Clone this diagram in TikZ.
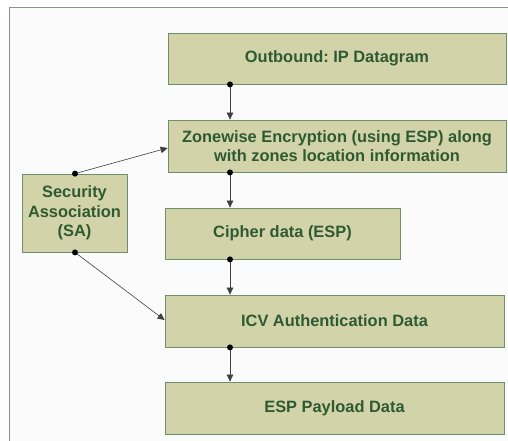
\documentclass[tikz,border=0pt]{standalone}
\usepackage{fontspec}
\setmainfont{Liberation Sans}
\usetikzlibrary{arrows.meta}
\definecolor{boxfill}{HTML}{D3D3A9}
\definecolor{boxline}{HTML}{6E8F6E}
\definecolor{txt}{HTML}{2E5A32}
\definecolor{frame}{HTML}{7F9C80}
\definecolor{bg}{HTML}{FBFBFB}
\frenchspacing
\begin{document}
\begin{tikzpicture}[x=1pt,y=-1pt,
  box/.style={draw=boxline,fill=boxfill,line width=0.8pt,text=txt,font=\bfseries\fontsize{16.4}{19.5}\selectfont,align=center,inner sep=0pt},
  conn/.style={draw=black!75,line width=0.6pt,-{Triangle[length=7pt,width=6.5pt]}},
  dot/.style={circle,fill=black,inner sep=0pt,minimum size=6pt}]
\useasboundingbox (0,0) rectangle (508,440);
\fill[white] (0,0) rectangle (508,440);
\filldraw[fill=bg,draw=frame,line width=0.8pt] (9,7) rectangle (520,450);
\node[box,minimum width=338pt,minimum height=51pt] (out) at (337,58.5) {Outbound: IP Datagram};
\node[box,minimum width=338pt,minimum height=52pt] (zone) at (337,146) {Zonewise Encryption (using ESP) along\\with zones location information};
\node[box,minimum width=235pt,minimum height=51pt] (ciph) at (282.5,233.5) {Cipher data (ESP)};
\node[box,minimum width=339pt,minimum height=52pt] (icv) at (334.5,321) {ICV Authentication Data};
\node[box,minimum width=339pt,minimum height=52pt] (esp) at (334.5,408) {ESP Payload Data};
\node[box,minimum width=105pt,minimum height=78pt] (sa) at (74.5,213) {Security\\Association\\(SA)};
\coordinate (o1) at (out.south -| 230,0);
\coordinate (z1) at (zone.north -| 230,0);
\coordinate (z2) at (zone.south -| 230,0);
\coordinate (c1) at (ciph.north -| 230,0);
\coordinate (c2) at (ciph.south -| 230,0);
\coordinate (i1) at (icv.north -| 230,0);
\coordinate (i2) at (icv.south -| 230,0);
\coordinate (e1) at (esp.north -| 230,0);
\coordinate (s1) at (sa.north -| 75,0);
\coordinate (s2) at (sa.south -| 75,0);
\coordinate (zl) at (zone.west |- 0,148);
\coordinate (il) at (icv.west |- 0,320);
\draw[conn] (o1) -- (z1);
\draw[conn] (z2) -- (c1);
\draw[conn] (c2) -- (i1);
\draw[conn] (i2) -- (e1);
\draw[conn] (s1) -- (zl);
\draw[conn] (s2) -- (il);
\foreach \p in {o1,z2,c2,i2,s1,s2} \node[dot] at (\p) {};
\end{tikzpicture}
\end{document}
